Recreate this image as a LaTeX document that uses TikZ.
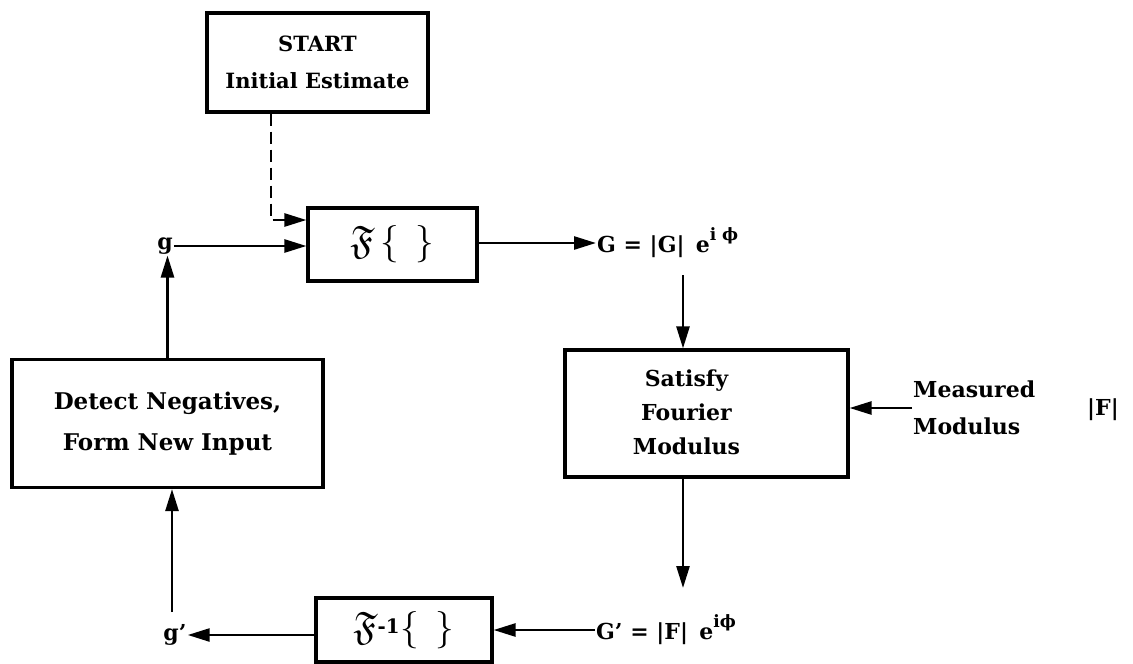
\documentclass[tikz,border=0pt]{standalone}
\usepackage{fontspec}
\usepackage{amssymb}
\usepackage{graphicx}
\setmainfont{DejaVu Serif}
\usetikzlibrary{arrows.meta,calc}
\begin{document}
\begin{tikzpicture}[x=1pt,y=-1pt,
  box/.style={draw,line width=3.2pt,rectangle,inner sep=0pt,align=center,font=\bfseries\fontsize{22}{34}\selectfont},
  lab/.style={inner sep=1pt,font=\bfseries\fontsize{22}{26}\selectfont},
  flow/.style={line width=2.6pt,-{Triangle[length=22pt,width=13pt]}},
  dflow/.style={flow,dash pattern=on 12pt off 6pt}]
\useasboundingbox (0,0) rectangle (1133,664);
\node[box,minimum width=221,minimum height=99,font=\bfseries\fontsize{21}{37}\selectfont] (start) at (317.5,62.5) {START\\Initial Estimate};
\node[box,minimum width=169,minimum height=73] (fbox) at (392.5,244.5) {\scalebox{1.8}{$\mathfrak{F}\,\{\;\,\}$}};
\node[lab] (g) at (165,246) {g};
\node[lab,anchor=west] (Gl) at (596,243) {G = |G| \,e\raisebox{0.55em}{\fontsize{17}{17}\selectfont i ϕ}};
\node[box,minimum width=283,minimum height=127,align=none] (sat) at (706.5,413.5) {\begin{tabular}{@{}c@{}}Satisfy\\Fourier\\Modulus\end{tabular}\hspace*{40pt}};
\node[lab,align=left,anchor=west,font=\bfseries\fontsize{22}{37}\selectfont] (meas) at (912,408) {Measured\\Modulus};
\node[lab] (absF) at (1103,410) {|F|};
\node[lab,anchor=west] (Gp) at (595,630) {G' = |F| \,e\raisebox{0.55em}{\fontsize{17}{17}\selectfont iϕ}};
\node[box,minimum width=176,minimum height=64] (finv) at (404,630) {\scalebox{1.8}{$\mathfrak{F}^{\raisebox{-0.2em}{\fontsize{11}{11}\selectfont\bfseries -1}}\{\;\,\}$}};
\node[lab] (gp) at (175,635) {g'};
\node[box,minimum width=311,minimum height=128,font=\bfseries\fontsize{23}{41}\selectfont] (det) at (167.5,423.5) {Detect Negatives,\\Form New Input};
\coordinate (dk) at (271,220);
\coordinate (dx) at (683,275);
\coordinate (dx2) at (683,588);
\coordinate (up) at (172,612);
\draw[dflow] (start.south -| dk) |- (fbox.west |- dk);
\draw[flow] (g.east) -- (g.east -| fbox.west);
\draw[flow] (fbox.east |- Gl) -- (Gl.west);
\draw[flow] (dx) -- (sat.north -| dx);
\draw[flow] (meas.west) -- (sat.east |- meas.west);
\draw[flow] (sat.south -| dx2) -- (dx2);
\draw[flow] (Gp.west) -- (finv.east |- Gp.west);
\draw[flow] (finv.west |- gp.east) -- (gp.east);
\draw[flow] (up) -- (det.south -| up);
\draw[flow] (det.north) -- (g.south -| det.north);
\end{tikzpicture}
\end{document}
